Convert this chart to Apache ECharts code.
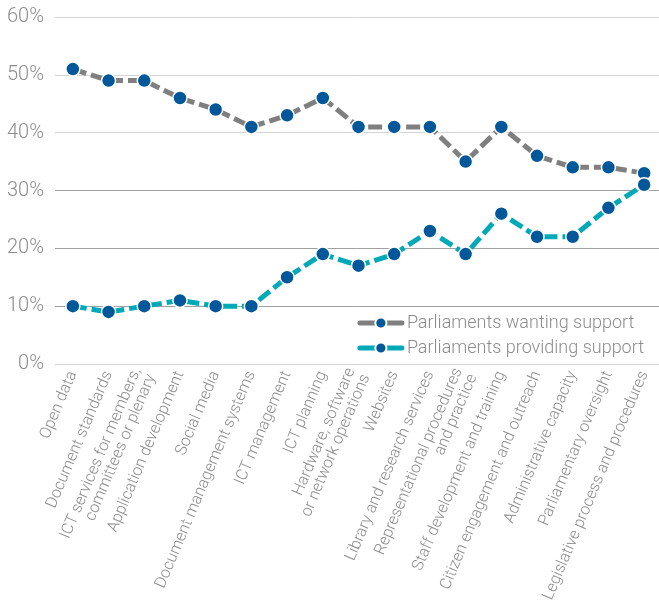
<!DOCTYPE html>
<html>
<head>
<meta charset="utf-8">
<script src="https://cdn.jsdelivr.net/npm/echarts@6/dist/echarts.min.js"></script>
<style>
  html,body{margin:0;padding:0;background:#fff;}
  #main{width:659px;height:604px;}
</style>
</head>
<body>
<div id="main"></div>
<script>
// categories along the x axis
var categories = [
  'Open data',
  'Document standards',
  'ICT services for members,\ncommittees or plenary',
  'Application development',
  'Social media',
  'Document management systems',
  'ICT management',
  'ICT planning',
  'Hardware, software\nor network operations',
  'Websites',
  'Library and research services',
  'Representational procedures\nand practice',
  'Staff development and training',
  'Citizen engagement and outreach',
  'Administrative capacity',
  'Parliamentary oversight',
  'Legislative process and procedures'
];
// % of parliaments
var wanting = [51, 49, 49, 46, 44, 41, 43, 46, 41, 41, 41, 35, 41, 36, 34, 34, 33];
var providing = [10, 9, 10, 11, 10, 10, 15, 19, 17, 19, 23, 19, 26, 22, 22, 27, 31];
var yTicks = [0, 60, 10]; // min, max, step

var font = "Roboto, sans-serif";
var txt = '#8c8c8c';
var names = ['Parliaments wanting support', 'Parliaments providing support'];
var colors = ['#7f7f7f', '#00a9b7'];

var app = echarts.init(document.getElementById('main'));

function mkSeries(name, data, color, dash){
  return {
    name: name,
    type: 'line',
    data: data,
    symbol: 'circle',
    symbolSize: 14,
    lineStyle: {color: color, width: 5, type: dash, cap: dash === 'solid' ? 'round' : 'butt'},
    itemStyle: {color: '#00589b', borderColor: '#fff', borderWidth: 1.5},
    z: 3
  };
}

var option = {
  animation: false,
  backgroundColor: '#fff',
  textStyle: {fontFamily: font, fontWeight: 300},
  grid: {left: 55, top: 17, width: 607, height: 347, outerBoundsMode: 'none', containLabel: false},
  legend: {
    orient: 'vertical',
    right: 10,
    top: 309,
    itemWidth: 42,
    itemHeight: 14,
    itemGap: 7,
    lineStyle: {width: 5, cap: 'round'},
    textStyle: {color: txt, fontSize: 18, fontWeight: 300, fontFamily: font},
    data: names
  },
  xAxis: {
    type: 'category',
    data: categories,
    boundaryGap: true,
    axisLine: {show: false},
    axisTick: {show: false},
    axisLabel: {
      interval: 0,
      rotate: 67,
      margin: 8,
      color: txt,
      fontSize: 16,
      lineHeight: 16,
      fontWeight: 300,
      fontFamily: font
    }
  },
  yAxis: {
    type: 'value',
    min: yTicks[0],
    max: yTicks[1],
    interval: yTicks[2],
    axisLine: {show: false},
    axisTick: {show: false},
    axisLabel: {
      formatter: '{value}%',
      color: txt,
      fontSize: 20,
      fontWeight: 300,
      margin: 11,
      fontFamily: font
    },
    splitLine: {lineStyle: {
      color: ['#d4d4d4', '#a0a0a0', '#a0a0a0', '#a0a0a0', '#d4d4d4', '#d4d4d4', '#d4d4d4'],
      width: 1
    }}
  },
  series: [
    // empty series only give the legend its solid icons
    mkSeries(names[0], [], colors[0], 'solid'),
    mkSeries(names[1], [], colors[1], 'solid'),
    mkSeries(names[0], wanting, colors[0], [14, 5]),
    mkSeries(names[1], providing, colors[1], [14, 5])
  ]
};
app.setOption(option);
</script>
</body>
</html>
